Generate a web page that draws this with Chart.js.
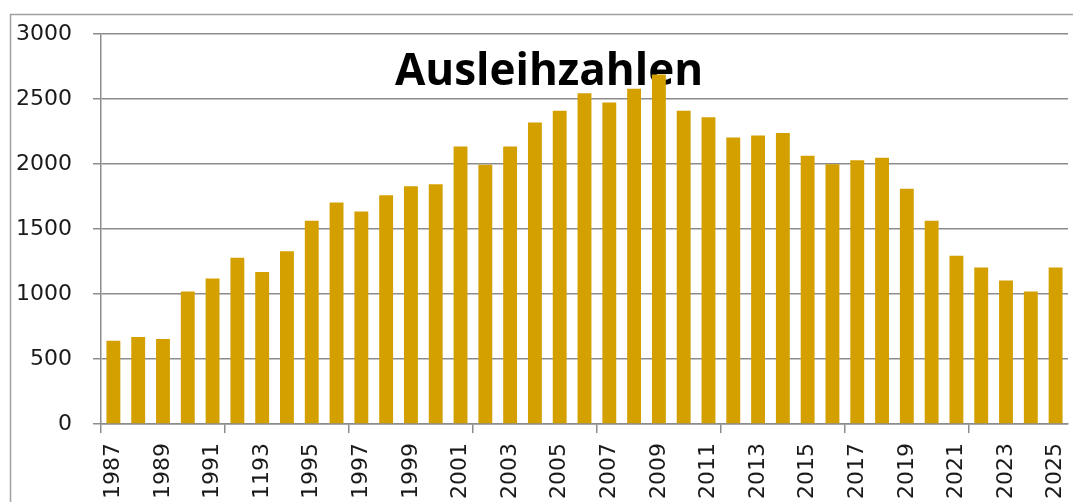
<!DOCTYPE html>
<html>
<head>
<meta charset="utf-8">
<script src="https://cdn.jsdelivr.net/npm/chart.js@4/dist/chart.umd.min.js"></script>
<style>
  html, body { margin: 0; padding: 0; background: #fff; }
  #wrap { width: 1073px; height: 502px; position: relative; }
</style>
</head>
<body>
<div id="wrap"><canvas id="chart"></canvas></div>
<script>
'use strict';
// Ausleihzahlen 1987–2025 (Balken je Jahr, Beschriftung jedes 2. Jahr)
const YEARS = ['1987', '1988', '1989', '1990', '1991', '1992', '1193', '1994', '1995', '1996',
  '1997', '1998', '1999', '2000', '2001', '2002', '2003', '2004', '2005', '2006',
  '2007', '2008', '2009', '2010', '2011', '2012', '2013', '2014', '2015', '2016',
  '2017', '2018', '2019', '2020', '2021', '2022', '2023', '2024', '2025'];
const LOANS = [640, 670, 655, 1020, 1120, 1280, 1170, 1330, 1565, 1705,
  1635, 1760, 1830, 1845, 2135, 1995, 2135, 2320, 2410, 2545,
  2475, 2580, 2690, 2410, 2360, 2205, 2220, 2240, 2065, 2000,
  2030, 2050, 1810, 1565, 1295, 1205, 1105, 1020, 1205];
const Y_MIN = 0, Y_MAX = 3000, Y_STEP = 500;
const TITLE = 'Ausleihzahlen';

const GRID = '#8c8c8c';
const BAR = '#D4A000';
const TICK_FONT = { family: 'DejaVu Sans', size: 22 };

// Rahmen + Titel (Titel liegt im Diagrammbereich, hinter den Balken)
const deco = {
  id: 'deco',
  beforeDraw(c) {
    const g = c.ctx; g.save();
    g.strokeStyle = '#a0a0a0'; g.lineWidth = 1.5;
    g.strokeRect(10.5, 14.5, 2000, 2000);
    g.restore();
  },
  beforeDatasetsDraw(c) {
    const g = c.ctx; g.save();
    g.font = 'bold 44px "Open Sans"'; g.fillStyle = '#000';
    g.textAlign = 'center'; g.textBaseline = 'alphabetic';
    g.fillText(TITLE, 549, 85);
    g.restore();
  },
};

new Chart(document.getElementById('chart').getContext('2d'), {
  type: 'bar',
  data: {
    labels: YEARS,
    datasets: [{ data: LOANS, backgroundColor: BAR, borderWidth: 0, barPercentage: 0.56, categoryPercentage: 1 }],
  },
  options: {
    responsive: true, maintainAspectRatio: false, animation: false,
    layout: { padding: { left: 0, right: 5, top: 34, bottom: 0 } },
    plugins: { legend: { display: false }, title: { display: false }, tooltip: { enabled: false } },
    scales: {
      x: {
        // gedrehte Beschriftung soll den Plotbereich nicht schmaler machen
        afterFit: s => { s.height = 78; s.paddingLeft = 0; s.paddingRight = 0; },
        grid: { offset: true, drawOnChartArea: false, tickLength: 9, lineWidth: 1.5,
          color: ctx => (ctx.index % 5 === 0 ? GRID : 'rgba(0,0,0,0)') },
        border: { color: GRID, width: 1.5 },
        ticks: { autoSkip: false, minRotation: 90, maxRotation: 90, padding: 10, color: '#1a1a1a', font: TICK_FONT,
          callback: (v, i) => (i % 2 === 0 ? YEARS[i] : '') },
      },
      y: {
        min: Y_MIN, max: Y_MAX,
        afterFit: s => { s.width = 101; },
        grid: { color: GRID, lineWidth: 1.5, tickLength: 8 },
        border: { color: GRID, width: 1.5 },
        ticks: { stepSize: Y_STEP, padding: 21, color: '#1a1a1a', font: TICK_FONT, callback: v => String(v) },
      },
    },
  },
  plugins: [deco],
});
</script>
</body>
</html>
